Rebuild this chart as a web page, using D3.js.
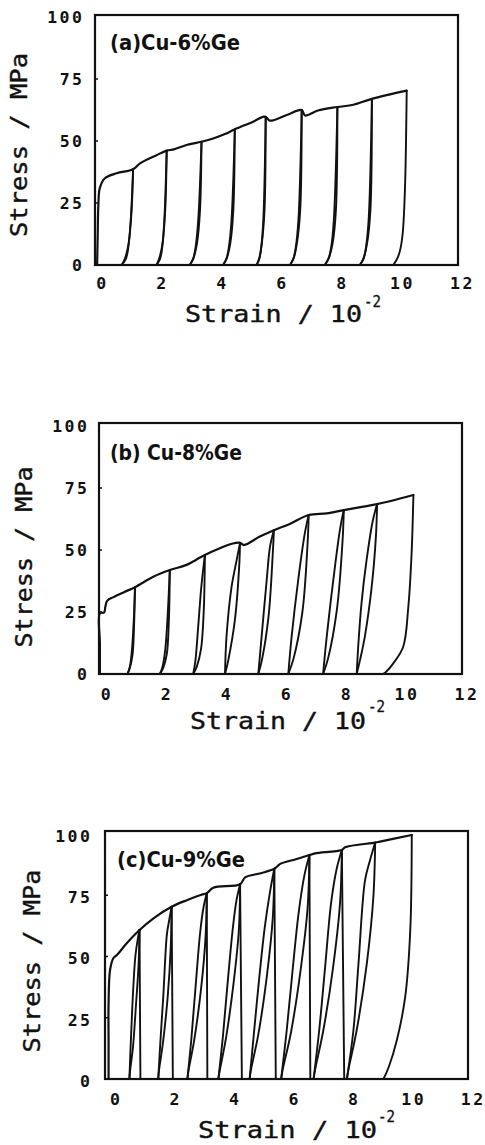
<!DOCTYPE html>
<html><head><meta charset="utf-8">
<script src="https://cdn.jsdelivr.net/npm/d3@7"></script>
<style>body{margin:0;background:#fff}svg{display:block}</style>
</head><body>
<svg id="chart" width="485" height="1145"></svg>
<script>
// ---------- data ----------
const xTicks = [0, 2, 4, 6, 8, 10, 12];
const yTicks = [0, 25, 50, 75, 100];
const xTitle = "Strain / 10";
const xTitleSup = "-2";
const yTitle = "Stress / MPa";
const labels = ["(a)Cu-6%Ge", "(b) Cu-8%Ge", "(c)Cu-9%Ge"];

// Panel (a) Cu-6%Ge : [strain (10^-2), stress (MPa)]
const envA = [[-0.06,0],[-0.04,12],[-0.02,23.5],[0.03,31],[0.2,35],[0.59,37],[1.14,38.6],[1.37,41],[1.92,44.3],[2.26,46.1],[2.5,46.6],[2.92,48.4],[3.42,49.7],[3.81,51],[4.2,52.8],[4.53,54.7],[5.14,57.8],[5.5,59.8],[5.59,59.4],[5.7,58.2],[6.26,60.5],[6.76,62.5],[6.87,60.3],[7.3,62.3],[7.95,63.7],[8.48,64.6],[9.1,67],[10.26,70.3]];
const unloadA = [
  [[1.14,38.6],[1.09,22],[0.99,8.7],[0.88,3],[0.76,0]],
  [[2.26,46.1],[2.21,22],[2.12,8.7],[2.02,3],[1.92,0]],
  [[3.42,49.7],[3.37,22],[3.27,8.7],[3.16,3],[3.03,0]],
  [[4.53,54.7],[4.48,22],[4.38,8.7],[4.27,3],[4.14,0]],
  [[5.56,59.8],[5.52,22],[5.43,8.7],[5.35,3],[5.26,0]],
  [[6.76,62.5],[6.71,22],[6.6,8.7],[6.5,3],[6.37,0]],
  [[7.95,63.7],[7.9,22],[7.79,8.7],[7.67,3],[7.53,0]],
  [[9.1,67],[9.05,22],[8.94,8.7],[8.83,3],[8.7,0]],
  [[10.26,70.3],[10.2,30],[10.12,12],[10.02,5],[9.92,2],[9.81,0]]
];
const reloadA = [
  [[0.76,0],[0.9,2.5],[0.98,7],[1.06,18],[1.14,38.6]],
  [[1.92,0],[2.04,2.5],[2.11,7],[2.18,18],[2.26,46.1]],
  [[3.03,0],[3.14,2.5],[3.22,7],[3.31,18],[3.42,49.7]],
  [[4.14,0],[4.25,2.5],[4.33,7],[4.42,18],[4.53,54.7]],
  [[5.26,0],[5.35,2.5],[5.41,7],[5.48,18],[5.56,59.8]],
  [[6.37,0],[6.48,2.5],[6.56,7],[6.65,18],[6.76,62.5]],
  [[7.53,0],[7.65,2.5],[7.74,7],[7.83,18],[7.95,63.7]],
  [[8.7,0],[8.82,2.5],[8.9,7],[8.99,18],[9.1,67]]
];

// Panel (b) Cu-8%Ge
const envB = [[-0.1,0],[-0.1,12],[-0.1,24.5],[0.04,24.8],[0.08,27],[0.14,29.5],[0.35,31],[0.7,33],[1.07,35],[1.68,39.2],[2.23,41.9],[2.79,44],[3.1,46],[3.4,48],[3.9,50.7],[4.3,52.5],[4.57,52.9],[4.7,52],[5.23,55.4],[5.7,58],[6.23,60.5],[6.86,64.1],[7.46,64.8],[8.03,66.1],[8.68,67.5],[9.14,68.5],[10.35,72.2]];
const unloadB = [
  [[1.07,35],[1.04,20],[0.99,8],[0.9,2.5],[0.82,0]],
  [[2.23,41.9],[2.2,22],[2.13,8],[2.01,2.5],[1.9,0]],
  [[3.4,48],[3.36,25],[3.27,10],[3.13,3],[3.01,0]],
  [[4.57,52.9],[4.55,45],[4.4,21.8],[4.18,5.6],[4.07,0]],
  [[5.7,58],[5.66,48],[5.52,23],[5.3,5.6],[5.18,0]],
  [[6.86,64.1],[6.82,52],[6.65,25],[6.35,6],[6.18,0]],
  [[8.03,66.1],[7.99,54],[7.8,26],[7.5,6],[7.34,0]],
  [[9.14,68.5],[9.1,55.4],[8.96,35.2],[8.73,15],[8.57,5.6],[8.46,0]],
  [[10.35,72.2],[10.29,48.7],[10.18,27],[10.01,11],[9.68,4.3],[9.45,1],[9.34,0]]
];
const reloadB = [
  [[0.82,0],[0.9,3],[0.97,10],[1.03,22],[1.07,35]],
  [[1.9,0],[1.99,3],[2.08,10],[2.16,24],[2.23,41.9]],
  [[3.01,0],[3.08,5],[3.17,18],[3.28,35],[3.4,48]],
  [[4.07,0],[4.12,15],[4.29,35.2],[4.46,46],[4.57,52.9]],
  [[5.18,0],[5.29,15],[5.46,37.9],[5.57,51.3],[5.7,58]],
  [[6.18,0],[6.29,15],[6.51,37.9],[6.73,56.7],[6.86,64.1]],
  [[7.34,0],[7.46,15],[7.68,37.9],[7.9,58],[8.03,66.1]],
  [[8.46,0],[8.51,11],[8.62,28.5],[8.79,46],[9.0,62],[9.14,68.5]]
];

// Panel (c) Cu-9%Ge
const envC = [[-0.12,0],[-0.12,15],[-0.12,30.9],[-0.07,44.5],[0.04,49.3],[0.16,50.6],[0.49,55.4],[0.92,60.8],[1.39,65.6],[2.0,70.3],[2.51,73],[3.0,75.2],[3.18,75.8],[3.4,78.1],[4.3,79.5],[4.47,82.3],[5.0,84],[5.45,85.8],[5.65,87.8],[6.2,89.8],[6.63,91.4],[6.82,92.1],[7.72,93.5],[7.83,94.6],[8.84,96.5],[9.0,96.9],[10.07,99.6]];
const unloadC = [
  [[0.92,60.8],[0.95,0]],
  [[2.0,70.3],[2.04,0]],
  [[3.18,75.8],[3.2,0]],
  [[4.3,79.5],[4.36,0]],
  [[5.45,85.8],[5.5,0]],
  [[6.63,91.4],[6.66,0]],
  [[7.72,93.5],[7.8,0]],
  [[10.07,99.6],[10.02,60.8],[9.85,33.6],[9.57,15.9],[9.3,5],[9.12,0]]
];
const loopRightC = [
  [[0.58,0],[0.6,3],[0.7,13],[0.8,30],[0.89,47],[0.92,60.8]],
  [[1.55,0],[1.57,3],[1.71,15],[1.87,34],[1.97,54],[2.0,70.3]],
  [[2.53,0],[2.56,3],[2.76,16],[2.99,37],[3.14,58],[3.18,75.8]],
  [[3.57,0],[3.61,3],[3.83,17],[4.08,39],[4.26,61],[4.3,79.5]],
  [[4.62,0],[4.66,3.4],[4.91,18],[5.2,42],[5.4,66],[5.45,85.8]],
  [[5.68,0],[5.73,3.7],[6.01,19],[6.34,45],[6.57,70],[6.63,91.4]],
  [[6.77,0],[6.82,3.7],[7.1,20],[7.43,46],[7.66,72],[7.72,93.5]],
  [[7.89,0],[7.94,3.7],[8.22,20],[8.56,47.2],[8.78,74.4],[8.84,96.5]]
];
const loopLeftC = [
  [[0.58,0],[0.62,13],[0.68,30],[0.78,50],[0.86,57],[0.92,60.8]],
  [[1.55,0],[1.62,15],[1.72,34],[1.84,59],[1.92,65],[2.0,70.3]],
  [[2.53,0],[2.66,16],[2.8,37],[2.96,60],[3.07,70],[3.18,75.8]],
  [[3.57,0],[3.72,17],[3.88,39],[4.06,62],[4.18,73],[4.3,79.5]],
  [[4.62,0],[4.76,18],[4.95,42],[5.13,62],[5.3,76],[5.45,85.8]],
  [[5.68,0],[5.86,19],[6.07,45],[6.27,68],[6.46,83],[6.63,91.4]],
  [[6.77,0],[6.96,20],[7.16,46],[7.36,72],[7.55,86],[7.72,93.5]],
  [[7.89,0],[8.11,20],[8.28,47.2],[8.5,81.2],[8.67,89.4],[8.84,96.5]]
];

// ---------- layout ----------
const panels = [
  { env: envA, lines: [...unloadA, ...reloadA], label: labels[0],
    xDom: [-0.13, 11.97], xR: [95, 458], yR: [265, 17], top: 15,
    yLabX: 84.5, yLabDy: 0, xLabY: 289, xLabDx: 3,
    xt: {x: 185, y: 322, len: 177}, sup: {x: 364, y: 307, len: 17},
    yt: {x: 27, y: 145, len: 184}, lab: {x: 110, y: 50, len: 130} },
  { env: envB, lines: [...unloadB, ...reloadB], label: labels[1],
    xDom: [-0.13, 11.97], xR: [99, 462], yR: [674, 426], top: 423,
    yLabX: 89.5, yLabDy: 0, xLabY: 700, xLabDx: 3.5,
    xt: {x: 190, y: 729, len: 176}, sup: {x: 368, y: 712, len: 17},
    yt: {x: 32, y: 557, len: 181}, lab: {x: 110, y: 460, len: 132} },
  { env: envC, lines: [...unloadC, ...loopRightC, ...loopLeftC], label: labels[2],
    xDom: [-0.24, 11.96], xR: [105, 468], yR: [1079, 834], top: 831,
    yLabX: 92.5, yLabDy: 2, xLabY: 1105, xLabDx: 3.5,
    xt: {x: 198, y: 1138, len: 179}, sup: {x: 378, y: 1122, len: 17},
    yt: {x: 40, y: 961, len: 183}, lab: {x: 117, y: 867, len: 128} }
];

const svg = d3.select("#chart");
const mono = "'DejaVu Sans Mono', 'Liberation Mono', monospace";

panels.forEach(p => {
  const x = d3.scaleLinear().domain(p.xDom).range(p.xR);
  const y = d3.scaleLinear().domain([0, 100]).range(p.yR);
  const g = svg.append("g");

  // frame
  g.append("rect")
    .attr("x", p.xR[0]).attr("y", p.top)
    .attr("width", p.xR[1] - p.xR[0]).attr("height", y(0) - p.top)
    .attr("fill", "none").attr("stroke", "#111").attr("stroke-width", 2.2);

  // small inner ticks on left frame
  g.selectAll(".mt").data(yTicks.filter(v => v > 0 && v < 100)).enter().append("line")
    .attr("x1", p.xR[0]).attr("x2", p.xR[0] + 3)
    .attr("y1", d => y(d)).attr("y2", d => y(d))
    .attr("stroke", "#111").attr("stroke-width", 1.5);

  // y tick labels
  const ya = g.append("g").attr("transform", `translate(${p.yLabX},${p.yLabDy})`)
    .call(d3.axisLeft(y).tickValues(yTicks).tickSize(0).tickPadding(0).tickFormat(d3.format("d")));
  ya.select(".domain").remove();
  ya.selectAll("text").attr("font-family", mono).attr("font-size", 16.5)
    .attr("font-weight", "bold").attr("letter-spacing", "2.5px").attr("fill", "#111");

  // x tick labels
  const xa = g.append("g").attr("transform", `translate(${p.xLabDx},${p.xLabY})`)
    .call(d3.axisBottom(x).tickValues(xTicks).tickSize(0).tickPadding(0).tickFormat(d3.format("d")));
  xa.select(".domain").remove();
  xa.selectAll("text").attr("y", 0).attr("dy", null)
    .attr("font-family", mono).attr("font-size", 16.5)
    .attr("font-weight", "bold").attr("letter-spacing", "2.5px").attr("fill", "#111");

  // axis titles
  g.append("text").attr("x", p.xt.x).attr("y", p.xt.y)
    .attr("textLength", p.xt.len).attr("lengthAdjust", "spacingAndGlyphs")
    .attr("font-family", mono).attr("font-size", 23).attr("fill", "#111")
    .attr("stroke", "#111").attr("stroke-width", 0.4).text(xTitle);
  g.append("text").attr("x", p.sup.x).attr("y", p.sup.y)
    .attr("textLength", p.sup.len).attr("lengthAdjust", "spacingAndGlyphs")
    .attr("font-family", mono).attr("font-size", 16).attr("fill", "#111")
    .attr("stroke", "#111").attr("stroke-width", 0.3).text(xTitleSup);
  g.append("text").attr("transform", `translate(${p.yt.x},${p.yt.y}) rotate(-90)`)
    .attr("text-anchor", "middle")
    .attr("textLength", p.yt.len).attr("lengthAdjust", "spacingAndGlyphs")
    .attr("font-family", mono).attr("font-size", 23).attr("fill", "#111")
    .attr("stroke", "#111").attr("stroke-width", 0.4).text(yTitle);

  // panel label
  g.append("text").attr("x", p.lab.x).attr("y", p.lab.y)
    .attr("textLength", p.lab.len).attr("lengthAdjust", "spacingAndGlyphs")
    .attr("font-family", "'Liberation Sans Narrow', 'DejaVu Sans Condensed', sans-serif")
    .attr("font-size", 22).attr("font-weight", "bold").attr("fill", "#111").text(p.label);

  // curves
  const line = d3.line().x(d => x(d[0])).y(d => y(d[1])).curve(d3.curveCatmullRom.alpha(0.5));
  g.append("path").attr("d", line(p.env))
    .attr("fill", "none").attr("stroke", "#111").attr("stroke-width", 2.2)
    .attr("stroke-linejoin", "round").attr("stroke-linecap", "round");
  g.selectAll(".cy").data(p.lines).enter().append("path")
    .attr("d", d => line(d))
    .attr("fill", "none").attr("stroke", "#111").attr("stroke-width", 1.9)
    .attr("stroke-linejoin", "round").attr("stroke-linecap", "round");
});
</script>
</body></html>
